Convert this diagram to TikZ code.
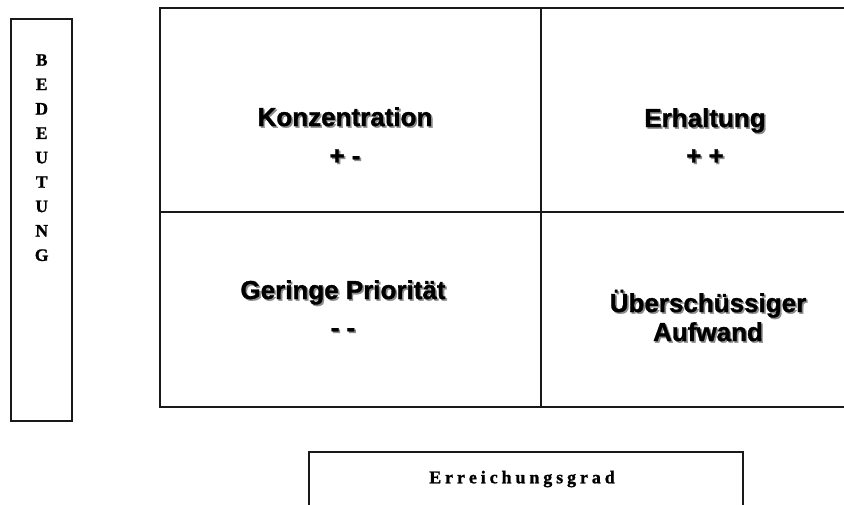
\documentclass[tikz,border=0pt]{standalone}
\usepackage{fontspec}
\setmainfont{Liberation Serif}
\setsansfont{Liberation Sans}
\newfontfamily\sansbold{Liberation Sans Bold}[FakeBold=1.2]
\newfontfamily\serifbold{Liberation Serif Bold}[FakeBold=1.2]
\makeatletter
\newcommand\spacedout[2]{\def\sp@k{#1}\@tfor\sp@c:=#2\do{\sp@c\kern\sp@k}\kern-\sp@k}
\makeatother
\tikzset{
  frame/.style={draw=black!90, line width=2pt},
  lbl/.style={font=\sansbold\fontsize{26}{30}\selectfont, anchor=base, inner sep=0pt},
  shd/.style={lbl, text=black!45, xshift=1.6pt, yshift=-1.6pt},
  vletter/.style={font=\serifbold\fontsize{17.5}{20}\selectfont, anchor=base, inner sep=0pt},
  axislbl/.style={font=\serifbold\fontsize{18}{20}\selectfont, anchor=base, inner sep=0pt},
}
\newcommand\shlabel[3]{%
  \node[shd] (#1s) at (#2) {#3};
  \node[lbl] (#1) at (#2) {#3};}
\begin{document}
\begin{tikzpicture}[x=1pt,y=-1pt]
\useasboundingbox (0,0) rectangle (844,504);
\clip (0,0) rectangle (844,504);
% matrix
\draw[frame] (160,8) rectangle (880,407);
\draw[frame] (541,8) -- (541,407);
\draw[frame] (160,212) -- (880,212);
% side box
\draw[frame] (11,19) rectangle (72,421);
\foreach \ch [count=\i] in {B,E,D,E,U,T,U,N,G}
  \node[vletter] (v\i) at (41.7, 41.3+24.4*\i) {\ch};
% bottom box
\draw[frame] (309,452) rectangle (743,530);
\node[axislbl] (erg) at (522,483.3) {\spacedout{3.9pt}{Erreichungsgrad}};
% labels
\shlabel{konz}{345,126}{Konzentration}
\shlabel{konzv}{345,164.5}{+ -}
\shlabel{erh}{705,127}{Erhaltung}
\shlabel{erhv}{705,164.5}{+ +}
\shlabel{ger}{343,299}{Geringe Priorität}
\shlabel{gerv}{343,336.5}{- -}
\shlabel{ueb}{708,312}{Überschüssiger}
\shlabel{auf}{708,341}{Aufwand}
\end{tikzpicture}
\end{document}
